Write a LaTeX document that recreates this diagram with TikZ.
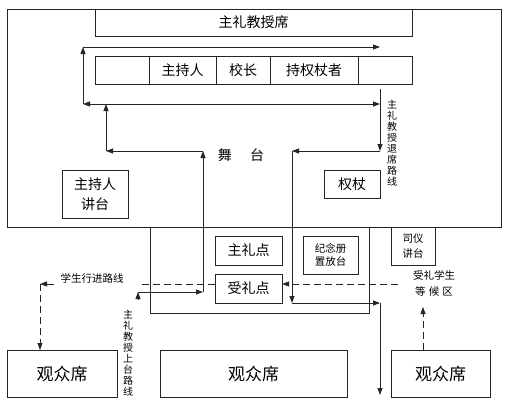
\documentclass[tikz,border=0pt]{standalone}
\usepackage{fontspec}
\setmainfont{Noto Sans CJK SC}
\usetikzlibrary{arrows.meta}
\begin{document}
\begin{tikzpicture}[x=1pt,y=-1pt,
  ln/.style={line width=0.8pt, draw=black!85},
  bx/.style={ln, draw, rectangle, inner sep=0pt, align=center},
  arr/.style={ln, -{Triangle[length=7pt,width=5pt]}},
  darr/.style={arr, dash pattern=on 7pt off 4pt},
  dln/.style={ln, dash pattern=on 7pt off 4pt},
  big/.style={font=\fontsize{14pt}{19.5pt}\selectfont},
  huge/.style={font=\fontsize{17pt}{20pt}\selectfont},
  sml/.style={font=\fontsize{10.5pt}{12.5pt}\selectfont},
  vert/.style={align=center, inner sep=0pt, font=\fontsize{10pt}{11pt}\selectfont},
]
\useasboundingbox (0,0) rectangle (505,405);

% stage and fixed boxes
\node[bx, minimum width=494pt, minimum height=218pt] (stage) at (254,118) {};
\node[bx, big, minimum width=317pt, minimum height=27pt] (seats) at (253.5,22.5) {主礼教授席};
\node[bx, minimum width=54pt, minimum height=28pt] (c1) at (122,70) {};
\node[bx, big, minimum width=67pt, minimum height=28pt] (c2) at (182.5,70) {主持人};
\node[bx, big, minimum width=54pt, minimum height=28pt] (c3) at (243,70) {校长};
\node[bx, big, minimum width=88pt, minimum height=28pt] (c4) at (314,70) {持权杖者};
\node[bx, minimum width=54pt, minimum height=28pt] (c5) at (385,70) {};
\node[big] (wutai) at (241,155) {舞\hspace{1.3em}台};
\node[bx, big, minimum width=66pt, minimum height=48pt] (hostpod) at (95,194) {主持人\\讲台};
\node[bx, big, minimum width=56pt, minimum height=28pt] (staff) at (352,184) {权杖};

\node[bx, minimum width=219pt, minimum height=86pt] (ext) at (259.5,270) {};
\node[bx, sml, minimum width=44pt, minimum height=38pt, font=\fontsize{10.5pt}{15pt}\selectfont] (mc) at (413,246) {司仪\\讲台};
\node[bx, sml, minimum width=55pt, minimum height=38pt] (album) at (330.5,255) {纪念册\\置放台};
\node[bx, big, minimum width=67pt, minimum height=29pt] (zld) at (248.5,250.5) {主礼点};
\node[bx, big, minimum width=67pt, minimum height=29pt] (sld) at (248.5,288.5) {受礼点};

\node[bx, huge, minimum width=110pt, minimum height=47pt] (audL) at (62,373.5) {观众席};
\node[bx, huge, minimum width=187pt, minimum height=47pt] (audM) at (253.5,373.5) {观众席};
\node[bx, huge, minimum width=99pt, minimum height=47pt] (audR) at (440.5,373.5) {观众席};

% labels
\node[sml, inner sep=0pt] (lblL) at (92,278) {学生行进路线};
\node[sml, inner sep=0pt, align=center, font=\fontsize{10.5pt}{16pt}\selectfont] (lblR) at (434,283) {受礼学生\\等\hspace{0.3em}候\hspace{0.3em}区};
\node[vert] (lblExit) at (392,143.5) {主\\礼\\教\\授\\退\\席\\路\\线};
\node[vert] (lblUp) at (128,353.5) {主\\礼\\教\\授\\上\\台\\路\\线};

% waypoints
\coordinate (a1) at (83,104);
\coordinate (a2) at (83,47);
\coordinate (a3) at (380,47);
\coordinate (b2) at (380,104);
\coordinate (e1) at (380,89);
\coordinate (e2) at (380,151);
\coordinate (e3) at (292,151);
\coordinate (e4) at (292,303);
\coordinate (e5) at (380,303);
\coordinate (e6) at (380,395);
\coordinate (u0) at (138,300);
\coordinate (u1) at (138,292);
\coordinate (u2) at (203,292);
\coordinate (u3) at (203,151);
\coordinate (u4) at (106,151);
\coordinate (u5) at (106,104);
\coordinate (d1) at (215,284);
\coordinate (d2) at (138,284);
\coordinate (d3) at (54,284);
\coordinate (d4) at (40,284);
\coordinate (d5) at (40,350);
\coordinate (r1) at (398,284);
\coordinate (r2) at (282,284);
\coordinate (r3) at (423,350);
\coordinate (r4) at (423,307);

% professor routes
\draw[arr] (a1) -- (a2);
\draw[arr] (a2) -- (a3);
\draw[arr, {Triangle[length=7pt,width=5pt]}-{Triangle[length=7pt,width=5pt]}] (a1) -- (b2);
\draw[arr] (e1) -- (e2);
\draw[arr] (e2) -- (e3);
\draw[arr] (e3) -- (e4);
\draw[arr] (e4) -- (e5);
\draw[arr] (e5) -- (e6);
\draw[arr] (u0) -- (u1);
\draw[arr] (u1) -- (u2);
\draw[arr] (u2) -- (u3);
\draw[arr] (u3) -- (u4);
\draw[arr] (u4) -- (u5);

% student routes
\draw[dln] (d1) -- (d2);
\draw[darr] (d3) -- (d4);
\draw[darr] (d4) -- (d5);
\draw[darr] (r1) -- (r2);
\draw[darr] (r3) -- (r4);
\end{tikzpicture}
\end{document}
